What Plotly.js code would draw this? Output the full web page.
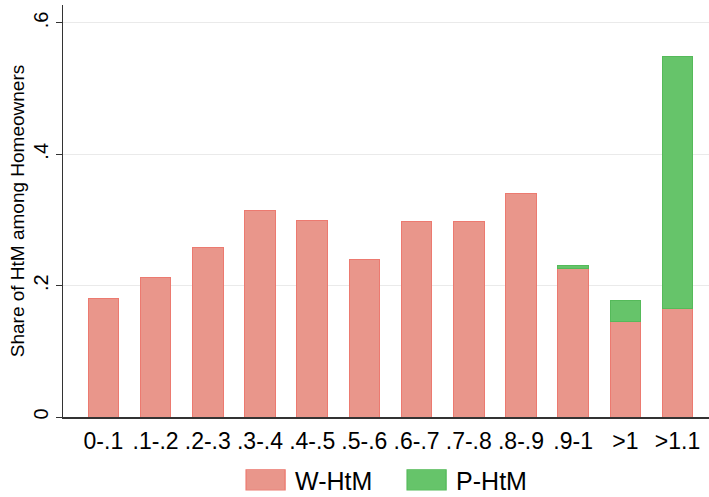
<!DOCTYPE html>
<html>
<head>
<meta charset="utf-8">
<script src="https://cdn.plot.ly/plotly-3.0.1.min.js"></script>
<style>
  html, body { margin: 0; padding: 0; background: #fff; }
  #chart { width: 709px; height: 497px; }
</style>
</head>
<body>
<div id="chart"></div>
<script>
const categories = ["0-.1", ".1-.2", ".2-.3", ".3-.4", ".4-.5", ".5-.6", ".6-.7", ".7-.8", ".8-.9", ".9-1", ">1", ">1.1"];
const wHtM = [0.181, 0.213, 0.258, 0.315, 0.300, 0.240, 0.297, 0.298, 0.340, 0.226, 0.145, 0.165];
const pHtM = [null, null, null, null, null, null, null, null, null, 0.005, 0.033, 0.384];
const yTickVals = [0, 0.2, 0.4, 0.6];
const yTickText = ["0", ".2", ".4", ".6"];

const FONT = "Liberation Sans, Arial, Helvetica, sans-serif";

const traces = [
  {
    type: "bar", name: "W-HtM", x: categories, y: wHtM,
    marker: { color: "rgb(233,150,139)", line: { color: "rgb(236,122,112)", width: 1 } },
    hoverinfo: "x+y+name"
  },
  {
    type: "bar", name: "P-HtM", x: categories, y: pHtM,
    marker: { color: "rgb(102,196,106)", line: { color: "rgb(85,186,90)", width: 1 } },
    hoverinfo: "x+y+name"
  }
];

const layout = {
  width: 709, height: 497,
  margin: { l: 63, r: 0, t: 5, b: 80, autoexpand: false },
  paper_bgcolor: "#fff", plot_bgcolor: "#fff",
  barmode: "stack",
  bargap: 0.412,
  font: { family: FONT, color: "#000" },
  xaxis: {
    type: "category",
    range: [-0.773, 11.602],
    automargin: false,
    showline: true, linecolor: "#333", linewidth: 1.5,
    ticks: "", showgrid: false, zeroline: false,
    tickfont: { size: 23, family: FONT, color: "#000" },
    ticklabelstandoff: 3
  },
  yaxis: {
    range: [0, 0.6274],
    automargin: false,
    tickvals: yTickVals, ticktext: yTickText,
    tickangle: -90,
    ticks: "outside", ticklen: 6, tickcolor: "#333", tickwidth: 1,
    showline: true, linecolor: "#333", linewidth: 1.5,
    showgrid: true, gridcolor: "#eaeaea", gridwidth: 1,
    zeroline: false,
    tickfont: { size: 20, family: FONT, color: "#000" },
    title: { text: "Share of HtM among Homeowners", font: { size: 19, family: FONT, color: "#000" }, standoff: 0 }
  },
  showlegend: true,
  legend: {
    orientation: "h",
    xref: "container", yref: "container",
    x: 0.333, xanchor: "left",
    y: 0.034, yanchor: "middle",
    font: { size: 25, family: FONT, color: "#000" },
    itemwidth: 49,
    entrywidth: 97,
    traceorder: "normal"
  }
};

Plotly.newPlot("chart", traces, layout, { displayModeBar: false, staticPlot: true }).then(function (gd) {
  // enlarge legend swatches to the wide rectangles of the reference
  gd.querySelectorAll(".legend .legendpoints path").forEach(function (p) {
    const t = p.getAttribute("transform") || "";
    p.setAttribute("transform", t + " scale(3.25,1.7)");
    p.style.strokeWidth = "0.4px";
  });
});
</script>
</body>
</html>
